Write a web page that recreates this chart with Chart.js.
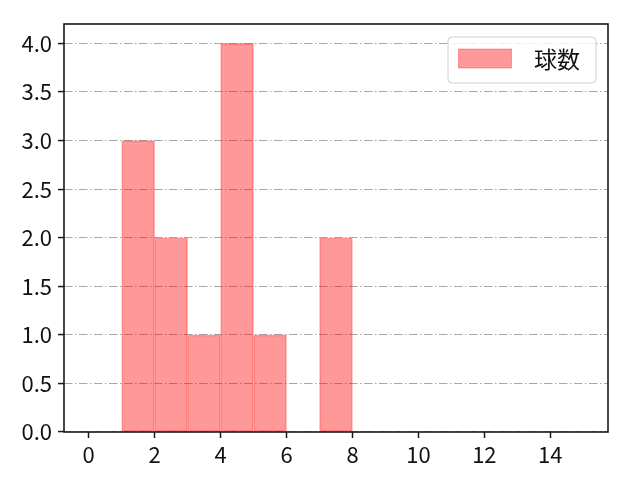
<!DOCTYPE html>
<html>
<head>
<meta charset="utf-8">
<script src="https://cdn.jsdelivr.net/npm/chart.js@4"></script>
<style>
  html, body { margin: 0; padding: 0; background: #fff; }
  #wrap { width: 640px; height: 480px; }
</style>
</head>
<body>
<div id="wrap"><canvas id="histChart"></canvas></div>
<script>
// histogram bins (left edge) and counts
const binStarts = [0, 1, 2, 3, 4, 5, 6, 7, 8, 9, 10, 11, 12, 13, 14];
const counts    = [0, 3, 2, 1, 4, 1, 0, 2, 0, 0, 0, 0, 0, 0, 0];
const seriesLabel = '球数';
const xTicks = [0, 2, 4, 6, 8, 10, 12, 14];
const yTicks = [0, 0.5, 1.0, 1.5, 2.0, 2.5, 3.0, 3.5, 4.0];

const FONT = '"Noto Sans CJK JP", "DejaVu Sans", sans-serif';
const barFill = 'rgba(255, 0, 0, 0.4)';
const barEdge = 'rgba(255, 0, 0, 0.3)';

// bars centred in their bins, empty bins dropped
const points = [];
binStarts.forEach(function (b, i) {
    if (counts[i] > 0) points.push({ x: b + 0.5, y: counts[i] });
});

// black frame round the plot area + legend box in the top right corner
const framePlugin = {
    id: 'frame',
    afterDraw: function (chart) {
        const ctx = chart.ctx;
        const a = chart.chartArea;
        ctx.save();
        ctx.strokeStyle = '#1a1a1a';
        ctx.lineWidth = 1.6;
        ctx.strokeRect(a.left, a.top, a.right - a.left, a.bottom - a.top);

        // legend
        const bx = a.right - 160, by = a.top + 13, bw = 148, bh = 46;
        ctx.fillStyle = 'rgba(255,255,255,0.8)';
        ctx.strokeStyle = '#d0d0d0';
        ctx.lineWidth = 1;
        ctx.beginPath();
        ctx.roundRect(bx, by, bw, bh, 4);
        ctx.fill();
        ctx.stroke();

        ctx.fillStyle = barFill;
        ctx.strokeStyle = barEdge;
        ctx.fillRect(bx + 10.5, by + 12, 53, 19);
        ctx.strokeRect(bx + 10.5, by + 12, 53, 19);

        ctx.fillStyle = '#111';
        ctx.font = '23px ' + FONT;
        ctx.textBaseline = 'middle';
        ctx.textAlign = 'left';
        ctx.fillText(chart.data.datasets[0].label, bx + 86, by + 22);
        ctx.restore();
    }
};

const chart = new Chart(document.getElementById('histChart'), {
    type: 'bar',
    data: {
        datasets: [{
            label: seriesLabel,
            data: points,
            backgroundColor: barFill,
            borderColor: barEdge,
            borderWidth: 1,
            borderSkipped: false,
            barPercentage: 1.0,
            categoryPercentage: 1.0
        }]
    },
    options: {
        responsive: true,
        maintainAspectRatio: false,
        animation: false,
        layout: { padding: { left: 0, top: 24, right: 32, bottom: 0 } },
        plugins: {
            legend: { display: false },
            tooltip: { enabled: false }
        },
        scales: {
            x: {
                type: 'linear',
                offset: false,
                min: -0.75,
                max: 15.75,
                afterBuildTicks: function (s) { s.ticks = xTicks.map(v => ({ value: v })); },
                afterFit: function (s) { s.height = 48; },
                grid: {
                    offset: false,
                    drawOnChartArea: false,
                    drawTicks: true,
                    tickLength: 6,
                    tickColor: '#1a1a1a',
                    tickWidth: 1.5
                },
                border: { display: false },
                ticks: {
                    color: '#111',
                    padding: 3,
                    maxRotation: 0,
                    font: { family: FONT, size: 22 },
                    callback: function (v) { return String(v); }
                }
            },
            y: {
                type: 'linear',
                min: 0,
                max: 4.2,
                afterBuildTicks: function (s) { s.ticks = yTicks.map(v => ({ value: v })); },
                afterFit: function (s) { s.width = 64; },
                grid: {
                    color: '#a8a8a8',
                    lineWidth: 1.1,
                    drawTicks: true,
                    tickLength: 6,
                    tickColor: '#1a1a1a',
                    tickWidth: 1.5,
                    tickBorderDash: []
                },
                border: { display: false, dash: [8.5, 2.5, 1.5, 2.5] },
                ticks: {
                    color: '#111',
                    padding: 6,
                    font: { family: FONT, size: 22 },
                    callback: function (v) { return Number(v).toFixed(1); }
                }
            }
        }
    },
    plugins: [framePlugin]
});
</script>
</body>
</html>
